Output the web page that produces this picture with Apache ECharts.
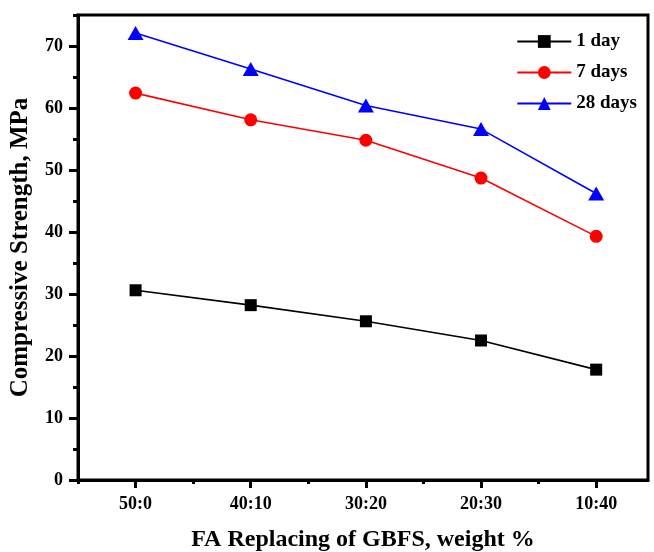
<!DOCTYPE html>
<html>
<head>
<meta charset="utf-8">
<script src="https://cdn.jsdelivr.net/npm/echarts@6/dist/echarts.min.js"></script>
<style>
  html, body { margin: 0; padding: 0; background: #fff; }
  #chart { width: 654px; height: 552px; }
</style>
</head>
<body>
<div id="chart"></div>
<script>
  // data
  const categories = ['50:0', '40:10', '30:20', '20:30', '10:40'];
  const day1 = [30.6, 28.2, 25.6, 22.5, 17.8];
  const day7 = [62.4, 58.1, 54.8, 48.7, 39.3];
  const day28 = [72.1, 66.3, 60.4, 56.6, 46.2];
  const yTicks = [0, 10, 20, 30, 40, 50, 60, 70];
  const yMinorTicks = [5, 15, 25, 35, 45, 55, 65, 75];

  const font = 'Liberation Serif';
  const xPos = categories.map((c, i) => i + 1);
  const xMinor = [0.5, 1.5, 2.5, 3.5, 4.5];
  const pts = arr => arr.map((v, i) => [xPos[i], v]);

  const chart = echarts.init(document.getElementById('chart'));

  const baseX = {
    type: 'value', min: 0.5, max: 5.45, position: 'bottom',
    splitLine: { show: false }
  };
  const baseY = {
    type: 'value', min: 0, max: 75, position: 'left',
    splitLine: { show: false }
  };

  chart.setOption({
    animation: false,
    grid: {
      left: 78, right: 6, top: 15, bottom: 72,
      outerBoundsMode: 'none', containLabel: false,
      show: true, borderColor: '#000', borderWidth: 3
    },
    legend: {
      orient: 'vertical',
      right: 12, top: 27,
      itemWidth: 54, itemHeight: 16, itemGap: 12,
      textStyle: { fontFamily: font, fontWeight: 'bold', fontSize: 19, color: '#000' },
      data: ['1 day', '7 days', '28 days']
    },
    xAxis: [
      Object.assign({}, baseX, {
        name: 'FA Replacing of GBFS, weight %',
        nameLocation: 'middle', nameGap: 48,
        nameTextStyle: { fontFamily: font, fontWeight: 'bold', fontSize: 24, color: '#000' },
        axisLine: { show: true, lineStyle: { color: '#000', width: 3 } },
        axisTick: { show: true, inside: false, length: 8, customValues: xPos, lineStyle: { color: '#000', width: 3 } },
        axisLabel: {
          customValues: xPos, margin: 15,
          formatter: v => categories[Math.round(v) - 1] || '',
          fontFamily: font, fontWeight: 'bold', fontSize: 18, color: '#000'
        }
      }),
      Object.assign({}, baseX, {
        axisLine: { show: false },
        axisTick: { show: true, inside: false, length: 4, customValues: xMinor, lineStyle: { color: '#000', width: 3 } },
        axisLabel: { show: false }
      })
    ],
    yAxis: [
      Object.assign({}, baseY, {
        name: 'Compressive Strength, MPa',
        nameLocation: 'middle', nameGap: 45,
        nameTextStyle: { fontFamily: font, fontWeight: 'bold', fontSize: 25, color: '#000' },
        axisLine: { show: true, lineStyle: { color: '#000', width: 3 } },
        axisTick: { show: true, inside: false, length: 9, customValues: yTicks, lineStyle: { color: '#000', width: 3 } },
        axisLabel: {
          customValues: yTicks, margin: 15,
          fontFamily: font, fontWeight: 'bold', fontSize: 18, color: '#000'
        }
      }),
      Object.assign({}, baseY, {
        axisLine: { show: false },
        axisTick: { show: true, inside: false, length: 5, customValues: yMinorTicks, lineStyle: { color: '#000', width: 3 } },
        axisLabel: { show: false }
      })
    ],
    series: [
      {
        name: '1 day', type: 'line', data: pts(day1),
        symbol: 'rect', symbolSize: 12,
        itemStyle: { color: '#000' },
        lineStyle: { color: '#000', width: 1.6 }
      },
      {
        name: '7 days', type: 'line', data: pts(day7),
        symbol: 'circle', symbolSize: 13,
        itemStyle: { color: '#ff0000' },
        lineStyle: { color: '#ff0000', width: 1.6 }
      },
      {
        name: '28 days', type: 'line', data: pts(day28),
        symbol: 'triangle', symbolSize: [16, 14],
        itemStyle: { color: '#0000ff' },
        lineStyle: { color: '#0000ff', width: 1.6 }
      }
    ]
  });
</script>
</body>
</html>
